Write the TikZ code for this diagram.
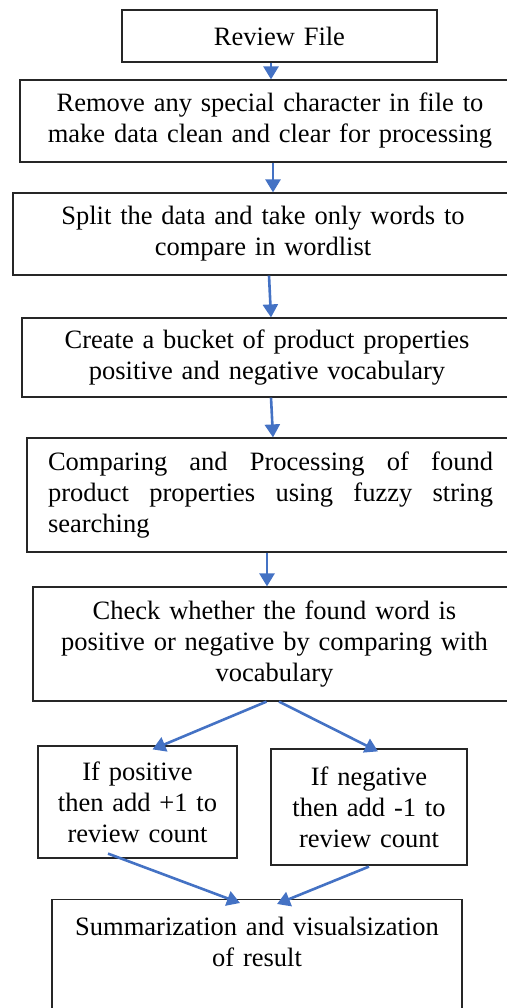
\documentclass[tikz,border=0pt]{standalone}
\usepackage{fontspec}
\setmainfont{Liberation Serif}
\usetikzlibrary{arrows.meta}
\definecolor{flowblue}{RGB}{68,114,196}
\tikzset{
  stepbox/.style={draw=black!85,line width=1.2pt,align=center,inner xsep=0pt,inner ysep=0pt,
    font=\fontsize{26.5}{31}\selectfont},
  flow/.style={flowblue,line width=2.6pt,-{Triangle[width=15pt,length=13pt]}},
}

\begin{document}
\begin{tikzpicture}[x=1pt,y=-1pt]
    \useasboundingbox (0,0) rectangle (506,1008);
    % main chain (boxes run past the right edge as in the scan)
    \node[stepbox,text width=315pt,minimum height=52pt] (review) at (279.5,36) {Review File};
    \node[stepbox,text width=500pt,minimum height=82pt] (clean) at (270,121)
      {Remove any special character in file to\\make data clean and clear for processing};
    \node[stepbox,text width=500pt,minimum height=82pt] (split) at (263,234)
      {Split the data and take only words to\\compare in wordlist};
    \node[stepbox,text width=490pt,minimum height=79pt] (bucket) at (267,357.5)
      {Create a bucket of product properties\\positive and negative vocabulary};
    \node[stepbox,align=justify,text width=445pt,inner xsep=21pt,minimum height=114pt] (compare) at (270.5,495)
      {Comparing and Processing of found\linebreak product properties using fuzzy string\linebreak searching};
    \node[stepbox,text width=483pt,minimum height=114pt] (check) at (274.5,644)
      {Check whether the found word is\\positive or negative by comparing with\\vocabulary};
    % branches
    \node[stepbox,text width=199pt,minimum height=112pt] (pos) at (137.5,802)
      {If positive\\then add +1 to\\review count};
    \node[stepbox,text width=196pt,minimum height=116pt] (neg) at (369,807)
      {If negative\\then add -1 to\\review count};
    \node[stepbox,text width=410pt,inner ysep=18pt,anchor=north] (summary) at (257,899)
      {Summarization and visualsization\\of result\\\mbox{}\\\mbox{}};
    % straight arrows
    \foreach \a/\sa/\b/\sb in {review/-8.5/clean/1, clean/3/split/10, split/6/bucket/4,
                                bucket/4/compare/2.5, compare/-3.5/check/-7.5}
      \draw[flow] ([xshift=\sa pt]\a.south) -- ([xshift=\sb pt]\b.north);
    \draw[flow] ([xshift=-8pt]check.south) -- ([xshift=15pt,yshift=-4pt]pos.north);
    \draw[flow] ([xshift=4.5pt]check.south) -- ([xshift=9pt,yshift=-3pt]neg.north);
    \draw[flow] ([xshift=-29.5pt,yshift=5pt]pos.south) -- ([xshift=-17pt,yshift=-4pt]summary.north);
    \draw[flow] ([yshift=-1pt]neg.south) -- ([xshift=20pt,yshift=-5pt]summary.north);
\end{tikzpicture}
\end{document}
